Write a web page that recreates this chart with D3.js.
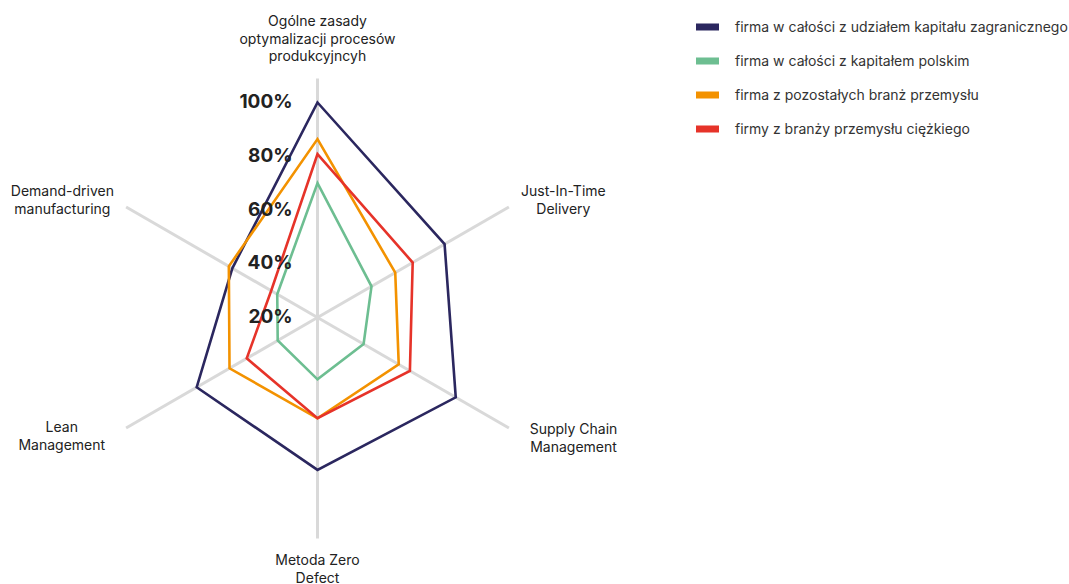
<!DOCTYPE html>
<html>
<head>
<meta charset="utf-8">
<script src="https://cdn.jsdelivr.net/npm/d3@7"></script>
<style>
  body { margin: 0; background: #fff; }
  text { font-family: Inter, "Noto Sans", sans-serif; }
</style>
</head>
<body>
<div id="chart"></div>
<script>
// dane
var axisLabels = [
  ["Ogólne zasady", "optymalizacji procesów", "produkcyjncyh"],
  ["Just-In-Time", "Delivery"],
  ["Supply Chain", "Management"],
  ["Metoda Zero", "Defect"],
  ["Lean", "Management"],
  ["Demand-driven", "manufacturing"]
];
var seriesNames = [
  "firma w całości z udziałem kapitału zagranicznego",
  "firma w całości z kapitałem polskim",
  "firma z pozostałych branż przemysłu",
  "firmy z branży przemysłu ciężkiego"
];
var foreignCapital  = [100, 74.6, 79.4, 76.7, 71.9, 56.6];
var polishCapital   = [70, 43.2, 39.8, 43, 37.1, 37.3];
var otherIndustries = [86.4, 53.4, 54.9, 57.5, 57.8, 58.1];
var heavyIndustry   = [80.8, 60.9, 59.7, 57.5, 50.4, 39.9];
var tickValues = [20, 40, 60, 80, 100];

var seriesValues = [foreignCapital, polishCapital, otherIndustries, heavyIndustry];
var colors = ["#2b275f", "#6dbe91", "#f39200", "#e63329"];

var width = 1069, height = 584;
var cx = 317.5, cy = 317.5;
var axisLen = 221;

var svg = d3.select("#chart").append("svg")
  .attr("width", width)
  .attr("height", height);

var g = svg.append("g").attr("transform", "translate(" + cx + "," + cy + ")");

// skala promienia
var rScale = d3.scaleLinear().domain([20, 100]).range([0, 215]);
var angle = function (i) { return i * 2 * Math.PI / axisLabels.length; };

// osie
g.selectAll(".axis-line")
  .data(axisLabels)
  .enter()
  .append("line")
  .attr("class", "axis-line")
  .attr("x1", 0).attr("y1", 0)
  .attr("x2", function (d, i) { return (i === 0 ? axisLen + 18 : axisLen) * Math.sin(angle(i)); })
  .attr("y2", function (d, i) { return -(i === 0 ? axisLen + 18 : axisLen) * Math.cos(angle(i)); })
  .attr("stroke", "#d9d9d9")
  .attr("stroke-width", 3);

// serie
var line = d3.lineRadial()
  .angle(function (d, i) { return angle(i); })
  .radius(function (d) { return rScale(d); })
  .curve(d3.curveLinearClosed);

g.selectAll(".series")
  .data(seriesValues)
  .enter()
  .append("path")
  .attr("class", "series")
  .attr("d", line)
  .attr("fill", "none")
  .attr("stroke", function (d, i) { return colors[i]; })
  .attr("stroke-width", 2.6)
  .attr("stroke-linejoin", "miter");

// etykiety osi
var labelPos = [
  { r: 261, anchor: "middle", dy: 0 },
  { r: 235, anchor: "start", dy: 0 },
  { r: 245, anchor: "start", dy: -2 },
  { r: 244, anchor: "middle", dy: -1 },
  { r: 245, anchor: "end", dy: -4 },
  { r: 235, anchor: "end", dy: 0 }
];
var lineH = 17.5;

axisLabels.forEach(function (lines, i) {
  var p = labelPos[i];
  var x = p.r * Math.sin(angle(i));
  var y = -p.r * Math.cos(angle(i)) + p.dy;
  var startY;
  if (i === 0) startY = y - (lines.length - 1) * lineH;
  else if (i === 3) startY = y;
  else startY = y - (lines.length - 1) * lineH / 2;
  var t = g.append("text")
    .attr("text-anchor", p.anchor)
    .attr("font-size", "14px")
    .attr("fill", "#222");
  lines.forEach(function (s, k) {
    t.append("tspan")
      .attr("x", x)
      .attr("y", startY + k * lineH)
      .attr("dy", "0.35em")
      .text(s);
  });
  // wyśrodkowanie dwuliniowych etykiet bocznych
  if (p.anchor !== "middle") {
    var bb = t.node().getBBox();
    var cxText = p.anchor === "start" ? x + bb.width / 2 : x - bb.width / 2;
    t.attr("text-anchor", "middle").selectAll("tspan").attr("x", cxText);
  }
});

// etykiety skali
g.selectAll(".tick-label")
  .data(tickValues)
  .enter()
  .append("text")
  .attr("class", "tick-label")
  .attr("x", -25)
  .attr("y", function (d) { return -rScale(d) - 1; })
  .attr("dy", "0.35em")
  .attr("text-anchor", "end")
  .attr("font-size", "19px")
  .attr("font-weight", 700)
  .attr("fill", "#222")
  .text(function (d) { return d + "%"; });

// legenda
var legend = svg.append("g").attr("transform", "translate(696,27)");
var item = legend.selectAll(".item")
  .data(seriesNames)
  .enter()
  .append("g")
  .attr("class", "item")
  .attr("transform", function (d, i) { return "translate(0," + i * 34 + ")"; });
item.append("rect")
  .attr("x", 0).attr("y", -3.5)
  .attr("width", 23).attr("height", 7)
  .attr("fill", function (d, i) { return colors[i]; });
item.append("text")
  .attr("x", 39)
  .attr("dy", "0.35em")
  .attr("font-size", "14px")
  .attr("fill", "#333")
  .text(function (d) { return d; });
</script>
</body>
</html>
